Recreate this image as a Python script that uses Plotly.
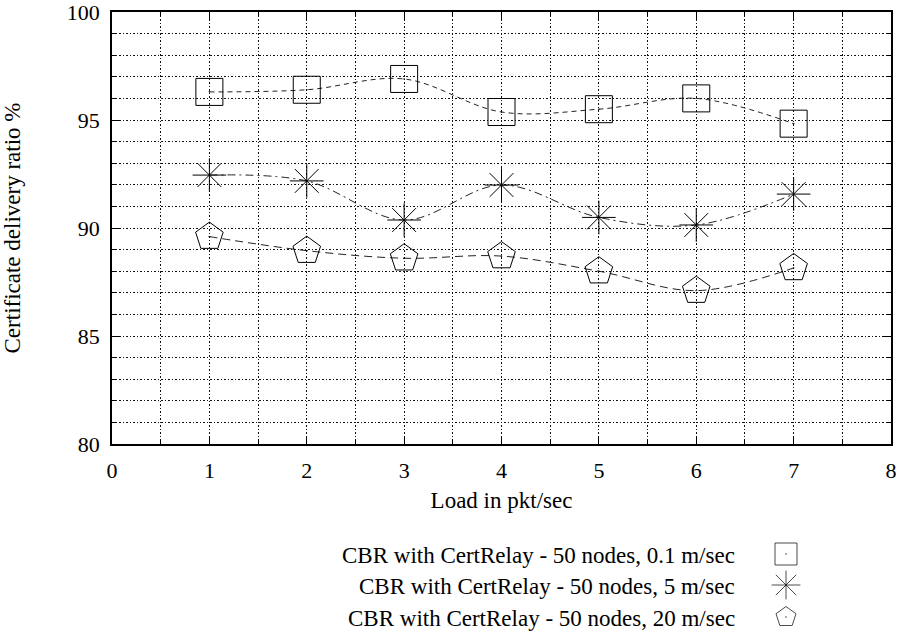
import plotly.graph_objects as go

loads = [1, 2, 3, 4, 5, 6, 7]
ratio_01 = [96.3, 96.4, 96.9, 95.37, 95.5, 96.0, 94.83]
ratio_5 = [92.45, 92.18, 90.37, 91.99, 90.49, 90.14, 91.57]
ratio_20 = [89.6, 88.95, 88.6, 88.7, 88.0, 87.1, 88.15]

names = [
    "CBR with CertRelay - 50 nodes, 0.1 m/sec",
    "CBR with CertRelay - 50 nodes, 5 m/sec",
    "CBR with CertRelay - 50 nodes, 20 m/sec",
]
symbols = ["square-open-dot", "asterisk-open", "pentagon-open-dot"]
sizes = [27, 28, 29]
legend_sizes = [22, 24, 21]
dashes = ["5px,4px", "8px,4px,2px,4px", "8px,5px"]
series = [ratio_01, ratio_5, ratio_20]

FONT = "Liberation Serif"
FS = 22
LEG_FS = 23
GRID_DASH = "1.5px,2px"

W, H = 906, 638
M_L, M_R, M_T, M_B = 112, 15, 12, 0
plot_h = H - M_T - M_B
main_bottom_px = 444
main_dom0 = (H - M_B - main_bottom_px) / plot_h
leg_dom1 = 0.29
leg_top_px = H - M_B - leg_dom1 * plot_h

# legend placement in pixel coordinates of the legend helper axes
leg_text_x = 737
leg_sym_x = 786
leg_rows_y = [555, 586, 618]

fig = go.Figure()
for ys, sym, sz, dsh in zip(series, symbols, sizes, dashes):
    fig.add_trace(go.Scatter(
        x=loads, y=ys, mode="lines",
        line=dict(color="#222", width=1, dash=dsh, shape="spline", smoothing=1.0),
        showlegend=False, hoverinfo="skip",
    ))
    fig.add_trace(go.Scatter(
        x=loads, y=ys, mode="markers",
        marker=dict(symbol=sym, size=sz, color="black", line=dict(color="black", width=1)),
        showlegend=False,
    ))

# custom legend (text right-aligned, symbol to the right)
fig.add_trace(go.Scatter(
    x=[leg_sym_x] * 3, y=[y - 1 for y in leg_rows_y], xaxis="x3", yaxis="y3", mode="markers",
    marker=dict(symbol=symbols, size=legend_sizes, color="black",
                line=dict(color="black", width=1)),
    cliponaxis=False, showlegend=False, hoverinfo="skip",
))
for nm, yy in zip(names, leg_rows_y):
    fig.add_annotation(text=nm, x=leg_text_x, y=yy, xref="x3", yref="y3",
                       xanchor="right", yanchor="middle", showarrow=False,
                       font=dict(family=FONT, size=LEG_FS, color="black"))

axis_common = dict(
    showline=True, linecolor="black", linewidth=1.5, mirror="allticks",
    ticks="inside", ticklen=8, tickwidth=1, tickcolor="black",
    showgrid=True, gridcolor="#111", gridwidth=1, griddash=GRID_DASH,
    zeroline=False, ticklabeloverflow="allow",
    tickfont=dict(family=FONT, size=FS, color="black"),
)

fig.update_layout(
    width=W, height=H,
    margin=dict(l=M_L, r=M_R, t=M_T, b=M_B),
    paper_bgcolor="white", plot_bgcolor="white",
    font=dict(family=FONT, size=FS, color="black"),
    xaxis=dict(range=[0, 8], dtick=1, tick0=0, anchor="y",
               minor=dict(dtick=0.5, ticklen=4, tickcolor="black", ticks="inside",
                          showgrid=True, gridcolor="#111", griddash=GRID_DASH, gridwidth=1),
               ticklabelstandoff=6,
               title=dict(text="Load in pkt/sec", font=dict(family=FONT, size=LEG_FS), standoff=10),
               automargin=False, **axis_common),
    yaxis=dict(range=[80, 100], dtick=5, tick0=80, domain=[main_dom0, 1], anchor="x",
               minor=dict(dtick=1, ticklen=4, tickcolor="black", ticks="inside",
                          showgrid=True, gridcolor="#111", griddash=GRID_DASH, gridwidth=1),
               ticklabelstandoff=6,
               title=dict(text="Certificate delivery ratio %", font=dict(family=FONT, size=LEG_FS), standoff=47),
               automargin=False, **axis_common),
    xaxis3=dict(range=[M_L, W - M_R], domain=[0, 1], anchor="y3", visible=False),
    yaxis3=dict(range=[H - M_B, leg_top_px], domain=[0, leg_dom1], anchor="x3", visible=False),
)

fig.write_html("out.html")
